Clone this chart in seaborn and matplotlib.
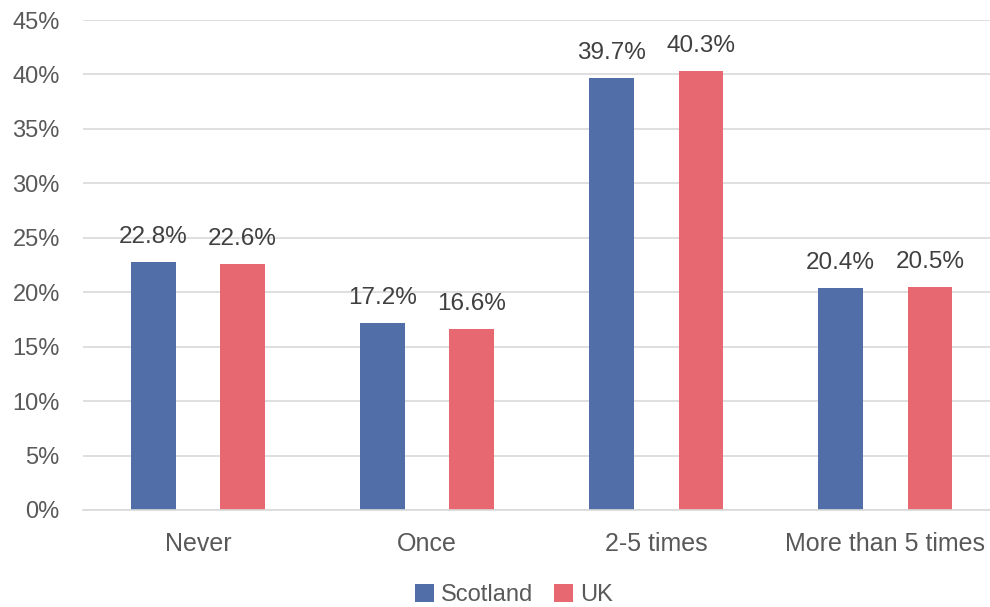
import matplotlib
matplotlib.use("Agg")
import matplotlib.pyplot as plt
import seaborn as sns
import pandas as pd
from matplotlib.ticker import FuncFormatter, MultipleLocator

categories = ["Never", "Once", "2-5 times", "More than 5 times"]
scotland = [22.8, 17.2, 39.7, 20.4]
uk = [22.6, 16.6, 40.3, 20.5]
series_names = ["Scotland", "UK"]
colors = ["#516EA9", "#E76870"]

df = pd.DataFrame({
    "Frequency": categories * 2,
    "Region": [series_names[0]] * len(categories) + [series_names[1]] * len(categories),
    "Percent": scotland + uk,
})

sns.set_theme(style="white")
plt.rcParams["font.family"] = ["Liberation Sans", "DejaVu Sans"]

fig = plt.figure(figsize=(9.9, 6.07), dpi=100)
ax = fig.add_axes([83.4 / 990, 97 / 607, (1000 - 83.4) / 990, 490 / 607])

sns.barplot(data=df, x="Frequency", y="Percent", hue="Region",
            order=categories, hue_order=series_names,
            palette=colors, width=0.78, gap=0.5, linewidth=0,
            saturation=1, ax=ax, legend=True)

for cont in ax.containers:
    ax.bar_label(cont, labels=[f"{v:.1f}%" for v in cont.datavalues],
                 padding=10, fontsize=17.5, color="#404040")

ax.set_ylim(0, 45)
ax.set_xlim(-0.5, 3.5)
ax.yaxis.set_major_locator(MultipleLocator(5))
ax.yaxis.set_major_formatter(FuncFormatter(lambda v, p: f"{v:.0f}%"))
ax.grid(axis="y", color="#D9D9D9", linewidth=1.2)
ax.set_axisbelow(True)
for s in ["top", "right", "left"]:
    ax.spines[s].set_visible(False)
ax.spines["bottom"].set_color("#D9D9D9")
ax.spines["bottom"].set_linewidth(1.2)
ax.tick_params(axis="y", length=0, pad=17, labelsize=17, labelcolor="#595959")
ax.tick_params(axis="x", length=0, pad=16, labelsize=18, labelcolor="#595959")
ax.set_xlabel("")
ax.set_ylabel("")

handles, labels = ax.get_legend_handles_labels()
ax.legend_.remove()
fig.legend(handles, labels, loc="center", bbox_to_anchor=(514 / 990, 1 - 595 / 607),
           ncol=2, frameon=False, fontsize=17, labelcolor="#595959",
           handlelength=0.8, handleheight=0.8, handletextpad=0.3, columnspacing=0.9)

fig.savefig("out.png", dpi=100)
